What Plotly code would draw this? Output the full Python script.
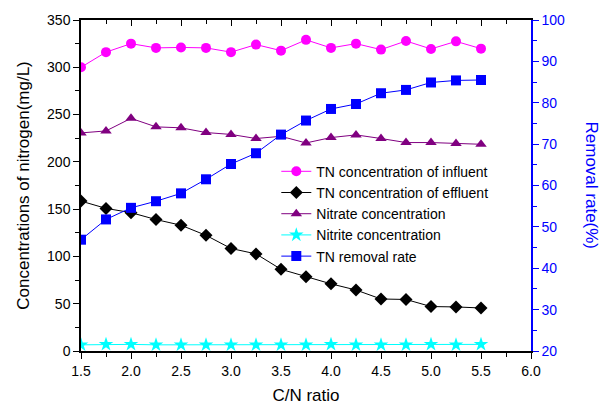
import plotly.graph_objects as go

cn_ratio = [1.5, 1.75, 2.0, 2.25, 2.5, 2.75, 3.0, 3.25, 3.5, 3.75, 4.0, 4.25, 4.5, 4.75, 5.0, 5.25, 5.5]
tn_influent = [300, 316, 325, 320.5, 321, 320.5, 316, 324, 317.6, 329, 320.5, 325, 318.7, 327.8, 319.4, 327.4, 319.7]
tn_effluent = [158.5, 150.8, 146.3, 139, 133, 122.3, 108.4, 102.7, 86.4, 78.4, 71, 64.5, 55, 54.5, 47, 46.6, 45.5]
nitrate = [230.6, 232.7, 246, 237, 236, 231, 229, 224.7, 227, 220, 225.7, 228.5, 224.7, 220.4, 220.4, 219.3, 218.6]
nitrite = [6.5, 7, 7, 6.5, 6.5, 6.5, 6.5, 6.5, 6.5, 6.5, 7, 6.5, 6.5, 6.5, 7, 6.5, 7]
tn_removal = [46.9, 51.8, 54.6, 56.2, 58.1, 61.5, 65.2, 67.8, 72.3, 75.7, 78.5, 79.7, 82.3, 83.1, 84.9, 85.4, 85.5]

FONT = "Liberation Sans, Arial, sans-serif"
BLUE = "#0000FF"

fig = go.Figure()

def add(y, name, color, symbol, yaxis="y"):
    fig.add_trace(go.Scatter(
        x=cn_ratio, y=y, name=name, mode="lines+markers", yaxis=yaxis,
        line=dict(color=color, width=1),
        marker=dict(color=color, symbol=symbol, size=10 if symbol != "star" else 11,
                    line=dict(width=0)),
    ))

add(tn_influent, "TN concentration of influent", "#FF00FF", "circle")
add(tn_effluent, "TN concentration of effluent", "#000000", "diamond")
add(nitrate, "Nitrate concentration", "#800080", "triangle-up")
add(nitrite, "Nitrite concentration", "#00FFFF", "star")
add(tn_removal, "TN removal rate", BLUE, "square", yaxis="y2")

# dummy trace for top axis
fig.add_trace(go.Scatter(x=[1.5], y=[0], xaxis="x2", mode="markers",
                         marker=dict(opacity=0), showlegend=False, hoverinfo="skip"))

fig.update_layout(
    width=605, height=414,
    margin=dict(l=81, r=74, t=20, b=59),
    paper_bgcolor="white", plot_bgcolor="white",
    font=dict(family=FONT, size=14, color="black"),
    showlegend=True,
    legend=dict(x=0.434, y=0.59, xanchor="left", yanchor="top",
                bgcolor="rgba(0,0,0,0)", font=dict(size=14, family=FONT),
                itemwidth=30, tracegroupgap=0),
    xaxis=dict(range=[1.5, 6.0], dtick=0.5, tick0=1.5, tickformat=".1f",
               showgrid=False, zeroline=False, showline=True, linecolor="black", linewidth=1.5,
               ticks="outside", ticklen=6, tickcolor="black", tickwidth=1.2,
               minor=dict(dtick=0.25, ticks="outside", ticklen=4, tickcolor="black", tickwidth=1.2),
               title=dict(text="C/N ratio", font=dict(size=17), standoff=12),
               tickfont=dict(size=14)),
    xaxis2=dict(range=[1.5, 6.0], overlaying="x", side="top", dtick=0.5, tick0=1.5,
                showgrid=False, zeroline=False, showline=True, linecolor="black", linewidth=1.5,
                ticks="inside", ticklen=6, tickcolor="black", tickwidth=1.2, showticklabels=False,
                minor=dict(dtick=0.25, ticks="inside", ticklen=4, tickcolor="black", tickwidth=1.2)),
    yaxis=dict(range=[0, 350], dtick=50, showgrid=False, zeroline=False,
               showline=True, linecolor="black", linewidth=1.5,
               ticks="outside", ticklen=6, tickcolor="black", tickwidth=1.2,
               minor=dict(dtick=25, ticks="outside", ticklen=4, tickcolor="black", tickwidth=1.2),
               title=dict(text="Concentrations of nitrogen(mg/L)", font=dict(size=17), standoff=13),
               tickfont=dict(size=14)),
    yaxis2=dict(range=[20, 100], dtick=10, overlaying="y", side="right",
                showgrid=False, zeroline=False, showline=True, linecolor=BLUE, linewidth=1.5,
                ticks="outside", ticklen=6, tickcolor=BLUE, tickwidth=1.2,
                minor=dict(dtick=5, ticks="outside", ticklen=4, tickcolor=BLUE, tickwidth=1.2),
                tickfont=dict(size=14, color=BLUE)),
    annotations=[dict(text="Removal rate(%)", textangle=90, xref="paper", yref="paper",
                      x=1.0, y=0.5, xshift=60, xanchor="center", yanchor="middle",
                      showarrow=False, font=dict(size=17, color=BLUE, family=FONT))],
)

fig.write_html("out.html")
